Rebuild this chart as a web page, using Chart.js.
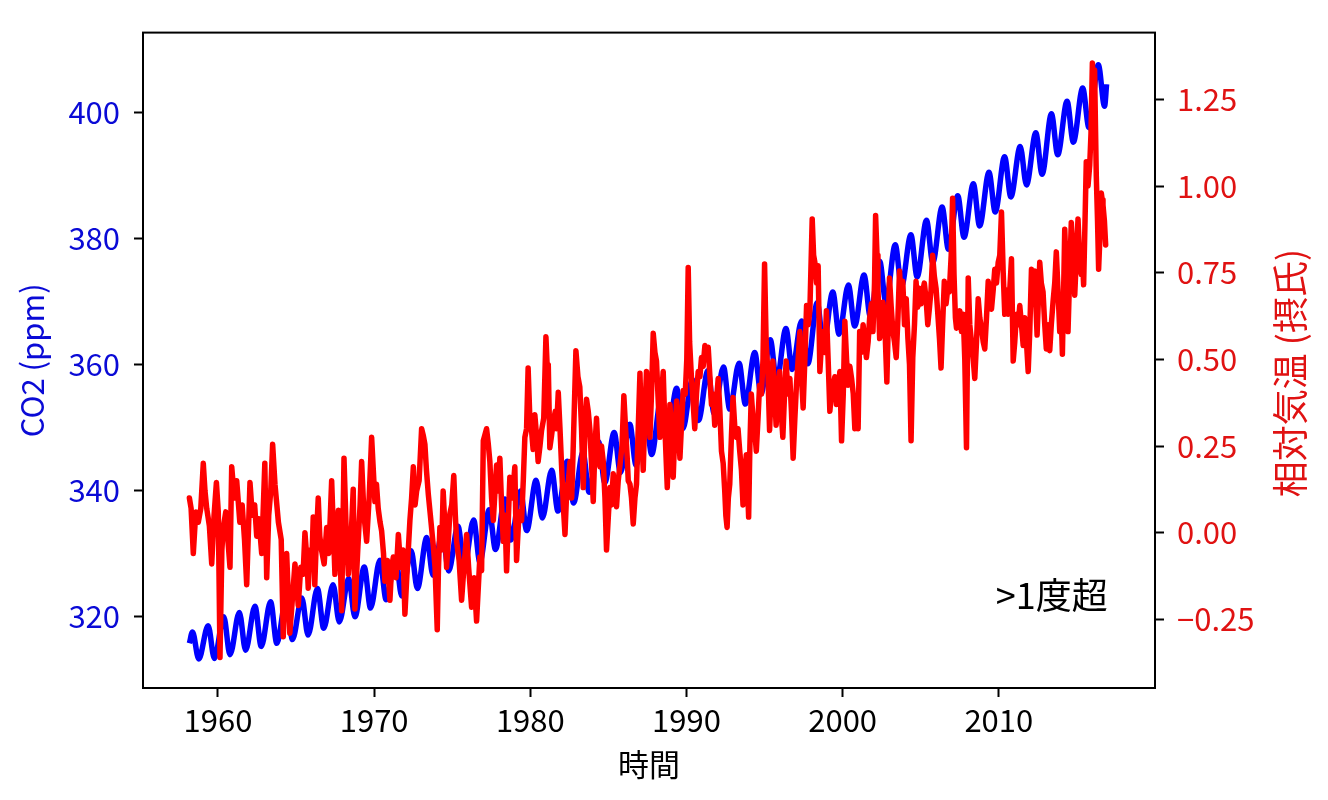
<!DOCTYPE html>
<html>
<head>
<meta charset="utf-8">
<script src="https://cdn.jsdelivr.net/npm/chart.js@4.4.1/dist/chart.umd.min.js"></script>
<style>
html,body{margin:0;padding:0;background:#fff;}
#wrap{width:1328px;height:800px;}
</style>
</head>
<body>
<div id="wrap"><canvas id="c" width="1328" height="800"></canvas></div>
<script>
// ---------- data ----------
const co2Years = [1958.17,
1958.37,1958.77,1959.37,1959.77,1960.37,1960.77,1961.37,1961.77,1962.37,1962.77,
1963.37,1963.77,1964.37,1964.77,1965.37,1965.77,1966.37,1966.77,1967.37,1967.77,
1968.37,1968.77,1969.37,1969.77,1970.37,1970.77,1971.37,1971.77,1972.37,1972.77,
1973.37,1973.77,1974.37,1974.77,1975.37,1975.77,1976.37,1976.77,1977.37,1977.77,
1978.37,1978.77,1979.37,1979.77,1980.37,1980.77,1981.37,1981.77,1982.37,1982.77,
1983.37,1983.77,1984.37,1984.77,1985.37,1985.77,1986.37,1986.77,1987.37,1987.77,
1988.37,1988.77,1989.37,1989.77,1990.37,1990.77,1991.37,1991.77,1992.37,1992.77,
1993.37,1993.77,1994.37,1994.77,1995.37,1995.77,1996.37,1996.77,1997.37,1997.77,
1998.37,1998.77,1999.37,1999.77,2000.37,2000.77,2001.37,2001.77,2002.37,2002.77,
2003.37,2003.77,2004.37,2004.77,2005.37,2005.77,2006.37,2006.77,2007.37,2007.77,
2008.37,2008.77,2009.37,2009.77,2010.37,2010.77,2011.37,2011.77,2012.37,2012.77,
2013.37,2013.77,2014.37,2014.77,2015.37,2015.77,2016.37,2016.77,2016.9];
const co2Values = [315.7,
317.5,313.2,318.5,313.3,319.9,313.9,320.6,314.6,321.6,315.2,
322.3,315.7,322.8,316.3,322.9,317.0,324.4,318.1,325.0,319.1,
326.0,319.9,327.8,321.3,328.9,322.6,329.3,323.2,330.4,324.4,
332.5,326.5,333.3,327.2,334.3,327.9,335.3,328.6,336.9,330.6,
338.6,332.1,339.9,333.6,341.6,335.6,343.2,336.7,344.6,338.0,
346.0,339.7,347.7,341.2,349.2,342.8,350.5,344.0,352.3,345.7,
354.5,348.3,356.2,349.8,357.6,351.1,359.0,352.2,359.6,352.9,
360.2,353.7,361.9,355.3,363.9,357.3,365.7,359.2,366.9,360.1,
369.8,363.2,371.5,364.8,372.6,366.1,374.2,367.6,376.4,369.8,
379.0,372.4,380.6,373.9,382.9,376.2,385.0,378.3,386.8,380.2,
388.7,382.0,390.5,384.2,393.0,386.6,394.6,388.5,396.8,390.2,
399.8,393.3,401.8,395.3,403.9,397.6,407.6,401.0,404.5];

const tempYears = [
1958.17,1958.28,1958.42,1958.58,1958.74,1958.9,1959.06,1959.17,1959.28,1959.45,1959.6,1959.75,1959.9,
1960.02,1960.13,1960.25,1960.34,1960.5,1960.65,1960.77,1960.88,1961.05,1961.2,1961.3,1961.4,1961.55,1961.7,1961.84,
1962.05,1962.2,1962.35,1962.48,1962.62,1962.8,1963.0,1963.12,1963.25,1963.38,1963.5,1963.65,1963.87,
1964.05,1964.18,1964.3,1964.4,1964.5,1964.6,1964.75,1964.93,1965.04,1965.14,1965.3,1965.45,1965.57,1965.7,1965.78,
1965.89,1966.0,1966.1,1966.2,1966.3,1966.42,1966.52,1966.63,1966.8,1966.96,
1967.1,1967.28,1967.38,1967.49,1967.6,1967.71,1967.82,1967.92,
1968.07,1968.2,1968.35,1968.5,1968.66,1968.77,1968.95,
1969.1,1969.2,1969.35,1969.52,1969.68,1969.84,
1970.05,1970.15,1970.26,1970.38,1970.48,1970.6,1970.69,1970.85,
1971.01,1971.12,1971.23,1971.4,1971.55,1971.7,1971.85,1971.97,
1972.1,1972.29,1972.4,1972.51,1972.62,1972.72,1972.88,
1973.04,1973.15,1973.25,1973.35,1973.47,1973.6,1973.79,1973.9,
1974.04,1974.12,1974.21,1974.32,1974.42,1974.52,1974.64,1974.75,1974.85,1974.97,
1975.1,1975.2,1975.28,1975.44,1975.6,1975.75,1975.92,
1976.05,1976.24,1976.4,1976.56,1976.77,1976.88,1976.99,
1977.2,1977.3,1977.41,1977.52,1977.63,1977.74,1977.84,1977.95,
1978.05,1978.16,1978.27,1978.38,1978.48,1978.6,1978.69,1978.85,
1979.01,1979.12,1979.28,1979.44,1979.55,1979.65,1979.76,1979.86,1979.97,
1980.08,1980.18,1980.29,1980.4,1980.5,1980.62,1980.72,1980.86,
1981.0,1981.08,1981.15,1981.25,1981.36,1981.47,1981.6,1981.68,1981.79,1981.9,
1982.0,1982.11,1982.22,1982.33,1982.44,1982.54,1982.65,1982.75,1982.92,
1983.05,1983.17,1983.28,1983.39,1983.5,1983.6,1983.71,1983.82,1983.92,
1984.03,1984.14,1984.24,1984.35,1984.46,1984.56,1984.67,1984.78,1984.88,
1985.0,1985.1,1985.2,1985.31,1985.42,1985.52,1985.63,1985.74,1985.87,1985.99,
1986.1,1986.2,1986.27,1986.38,1986.48,1986.59,1986.7,1986.8,1986.91,
1987.02,1987.12,1987.23,1987.34,1987.44,1987.55,1987.66,1987.76,1987.87,1987.98,
1988.08,1988.19,1988.3,1988.41,1988.51,1988.62,1988.77,1988.86,1988.94,
1989.05,1989.15,1989.26,1989.37,1989.47,1989.58,1989.69,1989.79,1989.92,
1990.02,1990.11,1990.2,1990.32,1990.42,1990.53,1990.64,1990.75,1990.86,1990.96,
1991.07,1991.18,1991.28,1991.39,1991.5,1991.6,1991.7,1991.81,1991.92,
1992.03,1992.14,1992.24,1992.35,1992.45,1992.52,1992.6,1992.68,1992.77,1992.88,1992.98,
1993.1,1993.2,1993.3,1993.41,1993.52,1993.62,1993.72,1993.83,1993.92,1993.98,
1994.06,1994.15,1994.26,1994.36,1994.47,1994.58,1994.68,1994.8,1994.9,
1995.0,1995.1,1995.21,1995.32,1995.42,1995.53,1995.64,1995.74,1995.85,1995.96,
1996.06,1996.17,1996.28,1996.38,1996.5,1996.62,1996.72,1996.83,1996.94,
1997.04,1997.15,1997.26,1997.36,1997.47,1997.58,1997.69,1997.8,1997.9,
1998.05,1998.14,1998.22,1998.33,1998.43,1998.54,1998.65,1998.75,1998.86,1998.96,
1999.07,1999.18,1999.28,1999.39,1999.5,1999.6,1999.71,1999.82,1999.93,
2000.04,2000.14,2000.25,2000.35,2000.46,2000.57,2000.68,2000.78,2000.89,2000.99,
2001.09,2001.2,2001.31,2001.42,2001.52,2001.63,2001.73,2001.84,2001.94,
2002.04,2002.11,2002.2,2002.26,2002.37,2002.47,2002.58,2002.7,2002.83,2002.92,
2003.0,2003.11,2003.22,2003.32,2003.43,2003.54,2003.64,2003.75,2003.85,2003.96,
2004.07,2004.18,2004.28,2004.38,2004.49,2004.6,2004.7,2004.8,2004.91,
2005.02,2005.12,2005.23,2005.34,2005.45,2005.55,2005.66,2005.76,2005.87,2005.98,
2006.08,2006.2,2006.3,2006.4,2006.51,2006.62,2006.72,2006.83,2006.95,
2007.04,2007.13,2007.22,2007.29,2007.4,2007.5,2007.61,2007.72,2007.82,2007.93,
2008.04,2008.14,2008.25,2008.36,2008.46,2008.57,2008.68,2008.78,2008.89,
2009.0,2009.1,2009.21,2009.32,2009.42,2009.53,2009.64,2009.74,2009.85,2009.96,
2010.06,2010.17,2010.28,2010.38,2010.49,2010.6,2010.7,2010.81,2010.92,
2011.02,2011.13,2011.24,2011.34,2011.45,2011.56,2011.66,2011.77,2011.88,2011.98,
2012.09,2012.2,2012.3,2012.38,2012.45,2012.54,2012.62,2012.72,2012.83,2012.94,
2013.04,2013.15,2013.26,2013.36,2013.47,2013.58,2013.68,2013.79,2013.9,
2014.0,2014.07,2014.15,2014.22,2014.32,2014.43,2014.54,2014.64,2014.75,2014.86,2014.97,
2015.07,2015.17,2015.28,2015.36,2015.43,2015.52,2015.6,2015.71,2015.82,2015.9,2015.99,
2016.06,2016.13,2016.24,2016.32,2016.39,2016.47,2016.56,2016.62,2016.67,2016.76,2016.84];
const tempValues = [
0.10,0.07,-0.06,0.06,0.03,0.07,0.20,0.12,0.07,0.02,-0.09,0.05,0.145,
0.06,-0.36,-0.05,0.015,0.06,-0.03,-0.10,0.19,0.10,0.15,0.09,0.03,0.08,-0.02,-0.15,
0.145,0.05,0.08,-0.01,0.04,-0.06,0.20,-0.13,0.05,0.12,0.255,0.14,0.03,
-0.02,-0.30,-0.15,-0.06,-0.18,-0.29,-0.20,-0.09,-0.15,-0.21,-0.10,-0.12,0.00,-0.08,-0.16,
-0.05,-0.10,0.045,-0.15,-0.02,0.10,-0.01,-0.05,-0.09,0.015,
-0.06,0.15,0.02,-0.12,0.00,0.065,-0.05,-0.225,
0.215,0.02,-0.12,-0.04,0.125,-0.22,-0.05,
0.08,0.205,0.05,-0.025,0.10,0.275,
0.09,0.14,0.07,0.03,0.005,-0.06,-0.14,-0.08,
-0.195,-0.10,-0.07,-0.13,-0.005,-0.10,-0.05,-0.235,
-0.12,0.035,0.10,0.19,0.08,0.12,0.15,
0.30,0.28,0.255,0.18,0.11,0.05,-0.04,-0.10,
-0.28,-0.10,0.015,-0.05,0.12,0.03,-0.10,-0.02,0.055,0.08,
0.165,0.05,-0.025,-0.08,-0.195,-0.10,-0.005,
-0.10,-0.215,-0.13,-0.255,-0.07,-0.11,0.265,
0.30,0.26,0.205,0.10,0.035,0.12,0.195,0.12,
0.215,0.08,-0.025,0.05,-0.11,0.05,0.16,0.10,
0.19,-0.08,0.06,0.035,0.15,0.275,0.30,0.475,0.33,
0.295,0.24,0.34,0.28,0.205,0.25,0.295,0.33,
0.565,0.48,0.485,0.245,0.28,0.32,0.35,0.30,0.405,0.30,
0.195,0.08,-0.005,0.12,0.15,0.205,0.10,0.25,0.525,
0.45,0.42,0.30,0.13,0.30,0.385,0.35,0.295,0.20,
0.09,0.25,0.33,0.22,0.19,0.25,0.205,0.10,-0.05,
0.05,0.13,0.08,0.17,0.10,0.075,0.15,0.195,0.25,0.395,
0.30,0.22,0.15,0.14,0.10,0.025,0.10,0.14,0.30,
0.46,0.30,0.18,0.35,0.465,0.38,0.275,0.40,0.575,0.52,
0.495,0.38,0.275,0.40,0.465,0.30,0.13,0.25,0.37,
0.28,0.16,0.30,0.38,0.30,0.215,0.32,0.41,0.40,
0.50,0.765,0.55,0.445,0.38,0.30,0.40,0.465,0.45,0.505,
0.48,0.54,0.50,0.535,0.45,0.37,0.40,0.31,0.38,
0.445,0.35,0.235,0.20,0.12,0.05,0.015,0.10,0.14,0.28,0.39,
0.30,0.275,0.30,0.235,0.18,0.08,0.15,0.225,0.12,0.045,
0.25,0.40,0.33,0.30,0.235,0.33,0.425,0.40,0.50,
0.775,0.55,0.465,0.295,0.40,0.495,0.40,0.31,0.40,0.465,
0.35,0.275,0.40,0.495,0.40,0.445,0.35,0.215,0.33,
0.425,0.50,0.58,0.45,0.36,0.50,0.655,0.60,0.64,
0.905,0.80,0.78,0.72,0.77,0.465,0.55,0.58,0.52,0.64,
0.50,0.35,0.40,0.425,0.45,0.37,0.40,0.465,0.265,
0.40,0.61,0.50,0.425,0.48,0.445,0.40,0.30,0.35,0.30,
0.58,0.52,0.60,0.55,0.505,0.55,0.62,0.66,0.58,
0.72,0.915,0.80,0.705,0.56,0.62,0.665,0.60,0.435,0.60,
0.735,0.65,0.58,0.55,0.505,0.62,0.755,0.66,0.725,0.60,
0.675,0.56,0.485,0.265,0.505,0.60,0.725,0.65,0.705,
0.66,0.695,0.72,0.675,0.60,0.645,0.70,0.80,0.74,0.705,
0.64,0.56,0.475,0.60,0.725,0.66,0.70,0.695,0.80,
0.965,0.745,0.62,0.59,0.62,0.64,0.58,0.63,0.50,0.245,
0.735,0.60,0.55,0.50,0.445,0.55,0.675,0.62,0.59,
0.55,0.53,0.62,0.725,0.66,0.645,0.70,0.76,0.72,0.78,
0.80,0.925,0.75,0.63,0.70,0.63,0.70,0.79,0.495,
0.55,0.63,0.60,0.655,0.60,0.54,0.62,0.55,0.465,0.58,
0.76,0.70,0.755,0.65,0.57,0.68,0.78,0.72,0.695,0.60,
0.53,0.60,0.525,0.60,0.665,0.72,0.81,0.70,0.58,
0.62,0.515,0.70,0.875,0.75,0.58,0.75,0.895,0.80,0.685,0.80,
0.905,0.80,0.745,0.78,0.715,0.90,1.07,1.00,1.06,1.15,1.355,
1.30,1.335,1.03,0.90,0.76,0.85,0.98,0.96,0.945,0.90,0.83];

const xTicks = [1960, 1970, 1980, 1990, 2000, 2010];
const co2Ticks = [320, 340, 360, 380, 400];
const tempTicks = [-0.25, 0, 0.25, 0.5, 0.75, 1.0, 1.25];

const xTitle = '時間';
const co2Title = 'CO2 (ppm)';
const tempTitle = '相対気温 (摂氏)';
const noteText = '>1度超';
const noteX = 2010;
const noteY = -0.181;

// ---------- styles ----------
const FONT = "'Noto Sans CJK JP', 'Noto Sans', sans-serif";
const FS = 31;
const FS_BIG = 36;
const BLUE_TXT = '#0a0ad6';
const RED_TXT = '#e01212';

const co2Points = co2Years.map((x, i) => ({x: x, y: co2Values[i]}));
const tempPoints = tempYears.map((x, i) => ({x: x, y: tempValues[i]}));

const extras = {
  id: 'extras',
  afterDraw(chart) {
    const {ctx, chartArea: a, scales} = chart;
    ctx.save();
    ctx.strokeStyle = '#000';
    ctx.lineWidth = 2;
    ctx.strokeRect(a.left, a.top, a.right - a.left, a.bottom - a.top);
    ctx.font = FS_BIG + 'px ' + FONT;
    ctx.fillStyle = RED_TXT;
    ctx.textAlign = 'center';
    ctx.textBaseline = 'middle';
    ctx.translate(1290, 373);
    ctx.rotate(-Math.PI / 2);
    ctx.fillText(tempTitle, 0, 0);
    ctx.restore();
    ctx.save();
    ctx.font = FS_BIG + 'px ' + FONT;
    ctx.fillStyle = '#000';
    ctx.textAlign = 'left';
    ctx.textBaseline = 'middle';
    ctx.fillText(noteText, scales.x.getPixelForValue(noteX) - 3, scales.y2.getPixelForValue(noteY));
    ctx.restore();
  }
};

new Chart(document.getElementById('c'), {
  type: 'line',
  data: {
    datasets: [
      {
        label: 'temp', data: tempPoints, yAxisID: 'y2',
        borderColor: '#ff0000', borderWidth: 5.5, pointRadius: 0, tension: 0,
        borderJoinStyle: 'round', borderCapStyle: 'round', order: 0
      },
      {
        label: 'co2', data: co2Points, yAxisID: 'y',
        borderColor: '#0000ff', borderWidth: 5.5, pointRadius: 0,
        cubicInterpolationMode: 'monotone', borderJoinStyle: 'round', order: 1
      }
    ]
  },
  options: {
    responsive: false,
    devicePixelRatio: 1,
    animation: false,
    events: [],
    layout: {padding: {top: 30, left: 0, right: 0, bottom: 0}},
    plugins: {legend: {display: false}, tooltip: {enabled: false}},
    scales: {
      x: {
        type: 'linear', position: 'bottom', min: 1955.2, max: 2020.0,
        afterFit(s) { s.height = 112; },
        afterBuildTicks(s) { s.ticks = xTicks.map(v => ({value: v})); },
        grid: {drawOnChartArea: false, drawTicks: true, tickLength: 9, tickWidth: 2, tickColor: '#000'},
        border: {display: true, color: '#000', width: 2},
        ticks: {color: '#000', font: {family: FONT, size: FS}, padding: 5, maxRotation: 0,
                callback: v => String(v)},
        title: {display: true, text: xTitle, color: '#000', font: {family: FONT, size: FS},
                padding: {top: 0, bottom: 17}}
      },
      y: {
        type: 'linear', position: 'left', min: 308.6, max: 412.7,
        afterFit(s) { s.width = 143; },
        afterBuildTicks(s) { s.ticks = co2Ticks.map(v => ({value: v})); },
        grid: {drawOnChartArea: false, drawTicks: true, tickLength: 9, tickWidth: 2, tickColor: '#000'},
        border: {display: true, color: '#000', width: 2},
        ticks: {color: BLUE_TXT, font: {family: FONT, size: FS}, padding: 14,
                callback: v => String(v)},
        title: {display: true, text: co2Title, color: BLUE_TXT, font: {family: FONT, size: FS},
                padding: {top: 14, bottom: 0}}
      },
      y2: {
        type: 'linear', position: 'right', min: -0.448, max: 1.4425,
        afterFit(s) { s.width = 173; },
        afterBuildTicks(s) { s.ticks = tempTicks.map(v => ({value: v})); },
        grid: {drawOnChartArea: false, drawTicks: true, tickLength: 9, tickWidth: 2, tickColor: '#000'},
        border: {display: true, color: '#000', width: 2},
        ticks: {color: RED_TXT, font: {family: FONT, size: FS}, padding: 13,
                callback: v => (v < 0 ? '\u2212' : '') + Math.abs(v).toFixed(2)},
        title: {display: false}
      }
    }
  },
  plugins: [extras]
});
</script>
</body>
</html>
